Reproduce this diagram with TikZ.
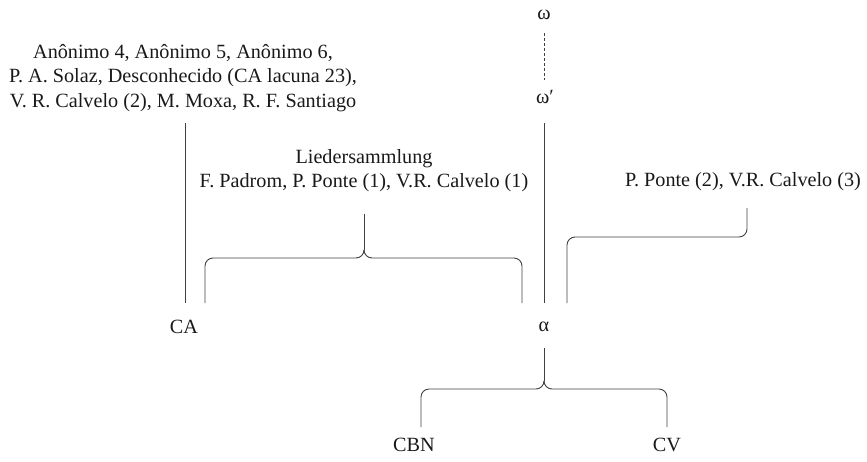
\documentclass[tikz,border=0pt]{standalone}
\usepackage{fontspec}
\setmainfont{Liberation Serif}
\begin{document}
\begin{tikzpicture}[x=1pt,y=-1pt,
  lbl/.style={inner sep=0pt,align=center,font=\fontsize{20.2}{24.5}\selectfont,text=black!90},
  ln/.style={draw=black!75,line width=0.9pt},
  rbracket/.style={ln,rounded corners=8pt}]
\useasboundingbox (0,0) rectangle (867,461);
% texts
\node[lbl] (om) at (544,15) {ω};
\node[lbl] (omp) at (545,97) {ω′};
\node[lbl] (anon) at (183,78) {Anônimo 4, Anônimo 5, Anônimo 6,\\P. A. Solaz, Desconhecido (CA lacuna 23),\\V. R. Calvelo (2), M. Moxa, R. F. Santiago};
\node[lbl] (lied) at (364,170.5) {Liedersammlung\\F. Padrom, P. Ponte (1), V.R. Calvelo (1)};
\node[lbl] (pp) at (743,182) {P. Ponte (2), V.R. Calvelo (3)};
\node[lbl] (CA) at (184,327) {CA};
\node[lbl] (alpha) at (544,327) {α};
\node[lbl] (CBN) at (414,445) {CBN};
\node[lbl] (CV) at (667,445) {CV};
% coordinates
\coordinate (omb) at (544,33);
\coordinate (omt) at (544,80);
\coordinate (ompb) at (544,123);
\coordinate (alt) at (544,303);
\coordinate (anb) at (185,123);
\coordinate (cat) at (185,303);
\coordinate (lst) at (364,214);
\coordinate (lsc) at (364,250);
\coordinate (lsl) at (205,303);
\coordinate (lsr) at (522,303);
\coordinate (ppt) at (747,208);
\coordinate (ppb) at (567,303);
\coordinate (als) at (544,348);
\coordinate (alc) at (544,381);
\coordinate (cbt) at (421,427);
\coordinate (cvt) at (667,427);
% connectors
\draw[ln,dash pattern=on 3pt off 2pt] (omb) -- (omt);
\draw[ln] (ompb) -- (alt);
\draw[ln] (anb) -- (cat);
% upper brace
\draw[ln] (lst) -- (lsc);
\draw[rbracket] (lsc) -- (lsc |- 0,258) -- (lsl |- 0,258) -- (lsl);
\draw[rbracket] (lsc) -- (lsc |- 0,258) -- (lsr |- 0,258) -- (lsr);
% right bracket
\draw[rbracket] (ppt) -- (ppt |- 0,237) -- (ppb |- 0,237) -- (ppb);
% lower brace
\draw[ln] (als) -- (alc);
\draw[rbracket] (alc) -- (alc |- 0,389) -- (cbt |- 0,389) -- (cbt);
\draw[rbracket] (alc) -- (alc |- 0,389) -- (cvt |- 0,389) -- (cvt);
\end{tikzpicture}
\end{document}
